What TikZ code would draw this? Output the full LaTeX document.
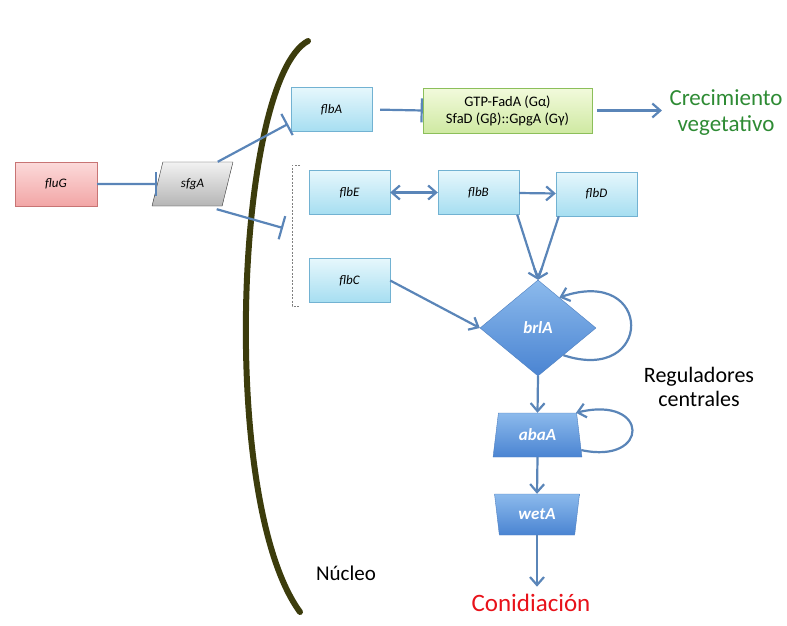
\documentclass[tikz,border=0pt]{standalone}
\usepackage{fontspec}
\setmainfont{Carlito}
\usetikzlibrary{arrows.meta,shapes.geometric}

\definecolor{linkblue}{HTML}{5A85B8}
\definecolor{nucleo}{HTML}{3C3C0C}
\definecolor{pinkedge}{HTML}{C87474}
\definecolor{pinktop}{HTML}{FCDADA}
\definecolor{pinkbot}{HTML}{F2A6A6}
\definecolor{grayedge}{HTML}{333333}
\definecolor{graytop}{HTML}{F2F2F2}
\definecolor{graybot}{HTML}{B5B5B5}
\definecolor{cyanedge}{HTML}{72B2D2}
\definecolor{cyantop}{HTML}{E6F7FC}
\definecolor{cyanbot}{HTML}{A6DEF1}
\definecolor{greenedge}{HTML}{8CBF5A}
\definecolor{greentop}{HTML}{F2FADC}
\definecolor{greenbot}{HTML}{CFE9A2}
\definecolor{coreedge}{HTML}{4F80C0}
\definecolor{coretop}{HTML}{8CBAEC}
\definecolor{corebot}{HTML}{4A84D2}
\definecolor{vegegreen}{HTML}{2E8B34}
\definecolor{conred}{HTML}{E8121A}

\begin{document}
\begin{tikzpicture}[x=1pt,y=-1pt,>={Straight Barb[length=8pt,width=14pt]},
        link/.style={draw=linkblue,line width=2.2pt},
        inhib/.style={link,-{Bar[width=24pt]}},
        act/.style={link,->},
        genebox/.style={draw=cyanedge,top color=cyantop,bottom color=cyanbot,minimum width=81pt,minimum height=44pt,font=\fontsize{13}{15}\selectfont\itshape},
        corebox/.style={draw=coreedge,top color=coretop,bottom color=corebot,text=white,inner sep=0pt,font=\fontsize{17}{19}\selectfont\bfseries\itshape}]
        \useasboundingbox (0,0) rectangle (787,626);
        \draw [nucleo,line width=6pt,line cap=round] (308,41) .. controls (236,80) and (218,500) .. (300,612);
        \node [font=\fontsize{21}{24}\selectfont] (nuc) at (346,573) {Núcleo};
        \node [draw=pinkedge,top color=pinktop,bottom color=pinkbot,minimum width=82pt,minimum height=44pt,font=\fontsize{13}{15}\selectfont\itshape] (fluG) at (56,184) {fluG};
        \node [trapezium,trapezium left angle=73,trapezium right angle=107,trapezium stretches=true,draw=grayedge,top color=graytop,bottom color=graybot,minimum width=81pt,minimum height=44pt,font=\fontsize{13}{15}\selectfont\itshape] (sfgA) at (192.5,184) {sfgA};
        \node [genebox] (flbA) at (331.5,109.5) {flbA};
        \node [draw=greenedge,top color=greentop,bottom color=greenbot,minimum width=169pt,minimum height=45pt,inner sep=2pt,align=center,font=\fontsize{14.5}{17}\selectfont] (gtp) at (507.5,110.5) {GTP-FadA (Gα)\\SfaD (Gβ)::GpgA (Gγ)};
        \node [text=vegegreen,align=center,font=\fontsize{23}{26}\selectfont] (crec) at (726,113) {Crecimiento\\vegetativo};
        \node [genebox] (flbE) at (349.5,192.5) {flbE};
        \node [genebox] (flbB) at (478.5,192.5) {flbB};
        \node [genebox] (flbD) at (596.5,194) {flbD};
        \node [genebox] (flbC) at (349.5,280.5) {flbC};
        \draw [gray,dash pattern=on 2pt off 1.5pt] (300,165) -- (292,165) -- (292,306) -- (300,306);
        \node [corebox,diamond,minimum width=116pt,minimum height=96pt] (brlA) at (538,328) {brlA};
        \node [corebox,trapezium,trapezium left angle=78,trapezium right angle=78,trapezium stretches=true,minimum width=89pt,minimum height=44pt] (abaA) at (537.5,435) {abaA};
        \node [corebox,trapezium,trapezium left angle=102,trapezium right angle=102,trapezium stretches=true,minimum width=85pt,minimum height=41pt] (wetA) at (537,514.5) {wetA};
        \node [text=conred,font=\fontsize{25}{28}\selectfont] (con) at (531,603) {Conidiación};
        \node [align=center,font=\fontsize{22}{24}\selectfont] (reg) at (699,387) {Reguladores\\centrales};
        \coordinate (barA) at (288,124);
        \coordinate (barG) at (283,228);
        \draw [inhib] (fluG) -- (sfgA);
        \draw [inhib] ([xshift=3pt]sfgA.north east) -- (barA);
        \draw [inhib] ([shift={(2,3)}]sfgA.south east) -- (barG);
        \draw [inhib,shorten <=8pt] (flbA.east) -- (gtp.west);
        \draw [act,shorten <=5pt,shorten >=4pt] (gtp.east) -- (gtp.east -| crec.west);
        \draw [link,<->] (flbE) -- (flbB);
        \draw [act] (flbB) -- (flbD);
        \draw [act] ([xshift=-2pt]flbB.south east) -- (brlA.north);
        \draw [act] ([xshift=3pt]flbD.south west) -- (brlA.north);
        \draw [act] (flbC.east) -- (brlA.west);
        \draw [act] (brlA.-47) .. controls (654,385) and (654,265) .. (brlA.55);
        \draw [act] (brlA.south) -- (abaA.north);
        \draw [act] (abaA.-19) .. controls (650,465) and (650,395) .. (abaA.30);
        \draw [act] (abaA.south) -- (wetA.north);
        \draw [act,shorten >=4pt] (wetA.south) -- (wetA.south |- con.north);
\end{tikzpicture}
\end{document}
